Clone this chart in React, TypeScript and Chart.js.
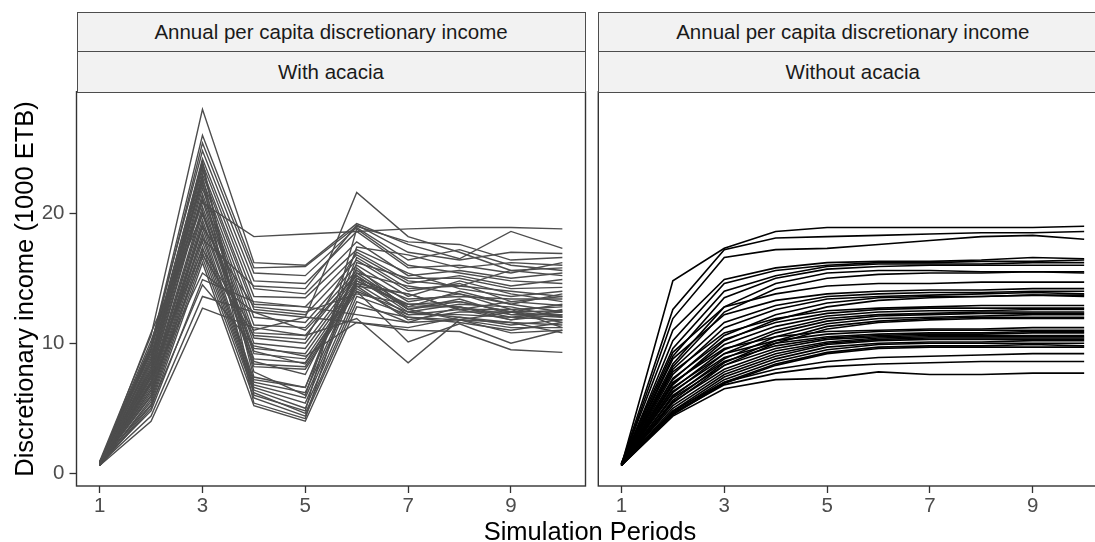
import { useEffect, useRef } from "react";
import { Chart, registerables } from "chart.js";

Chart.register(...registerables);

// Simulation periods on the x axis
const periods = [1, 2, 3, 4, 5, 6, 7, 8, 9, 10];
const xTicks = [1, 3, 5, 7, 9];
const yTicks = [0, 10, 20];

const stripTitle = "Annual per capita discretionary income";
const panelNames = ["With acacia", "Without acacia"];
const xTitle = "Simulation Periods";
const yTitle = "Discretionary income (1000 ETB)";

// Household trajectories with acacia (1000 ETB per period)
const withAcacia: number[][] = [
  [0.8, 9.2, 20.8, 18.2, 18.4, 18.6, 18.8, 18.9, 18.9, 18.8],
  [0.7, 7.8, 17.2, 11.0, 12.0, 21.6, 18.2, 17.0, 15.6, 15.2],
  [0.9, 10.6, 28.0, 16.2, 16.0, 19.2, 17.6, 16.5, 18.6, 17.3],
  [0.6, 9.8, 26.0, 15.8, 15.9, 19.0, 17.8, 17.6, 16.4, 16.6],
  [0.7, 9.5, 25.4, 15.4, 15.2, 18.9, 16.4, 17.2, 16.0, 15.6],
  [0.8, 9.9, 24.8, 14.8, 14.6, 18.6, 15.8, 16.0, 15.4, 16.2],
  [0.6, 9.0, 24.2, 14.2, 13.8, 17.8, 15.2, 15.6, 15.0, 15.4],
  [0.7, 8.8, 23.8, 13.6, 13.5, 17.2, 15.4, 14.2, 13.6, 14.0],
  [0.8, 8.6, 23.3, 13.0, 12.8, 16.8, 14.6, 15.2, 14.4, 14.9],
  [0.6, 8.4, 23.0, 12.6, 12.2, 16.4, 14.0, 14.6, 13.2, 13.6],
  [0.7, 8.2, 22.6, 12.0, 11.6, 16.0, 13.6, 14.8, 13.8, 13.2],
  [0.9, 8.0, 22.2, 11.4, 11.2, 15.6, 13.2, 13.8, 12.6, 12.8],
  [0.6, 7.8, 21.9, 10.8, 10.6, 15.4, 12.8, 14.0, 13.0, 12.4],
  [0.7, 7.6, 21.5, 10.4, 10.0, 15.2, 12.6, 13.4, 12.2, 12.2],
  [0.8, 7.5, 21.2, 10.0, 9.6, 15.0, 12.4, 13.0, 12.8, 12.0],
  [0.6, 7.3, 20.5, 9.6, 9.2, 14.8, 13.0, 12.8, 12.0, 11.8],
  [0.7, 7.1, 20.2, 9.2, 8.8, 14.6, 12.2, 12.6, 11.8, 12.6],
  [0.8, 7.0, 19.9, 8.8, 8.5, 14.4, 11.8, 12.4, 12.4, 11.6],
  [0.6, 6.8, 19.5, 8.4, 8.2, 14.2, 12.0, 11.8, 11.6, 11.4],
  [0.7, 6.6, 19.2, 8.2, 8.0, 14.0, 10.1, 11.5, 10.0, 11.0],
  [0.8, 6.4, 18.9, 7.2, 6.6, 15.8, 12.6, 13.2, 12.4, 13.0],
  [0.6, 6.2, 18.5, 7.0, 6.2, 15.0, 13.4, 13.6, 13.4, 13.4],
  [0.7, 6.0, 18.2, 6.8, 5.8, 14.8, 12.8, 12.8, 11.8, 12.2],
  [0.8, 5.9, 17.8, 6.6, 5.4, 14.6, 13.8, 12.6, 12.6, 11.2],
  [0.6, 5.7, 17.4, 6.4, 5.0, 14.0, 12.4, 12.0, 11.4, 11.8],
  [0.7, 5.5, 17.0, 6.2, 4.6, 13.6, 12.2, 12.2, 12.0, 12.4],
  [0.8, 5.3, 16.6, 5.8, 4.4, 13.2, 11.6, 11.8, 11.2, 11.2],
  [0.6, 5.0, 16.2, 5.2, 4.0, 12.8, 12.0, 11.6, 11.0, 11.6],
  [0.6, 4.0, 12.7, 11.2, 10.6, 11.9, 8.5, 11.8, 10.8, 11.0],
  [0.7, 4.4, 13.6, 12.4, 12.0, 11.6, 11.2, 12.0, 11.6, 10.8],
  [0.8, 4.8, 14.9, 13.2, 12.8, 12.2, 11.6, 12.8, 12.2, 12.0],
  [0.6, 5.2, 14.5, 9.8, 9.0, 11.6, 11.0, 10.9, 9.5, 9.3],
  [0.7, 8.0, 22.8, 7.4, 6.6, 16.6, 14.2, 14.4, 15.6, 15.8],
  [0.8, 8.6, 23.6, 7.8, 6.0, 17.4, 16.8, 15.8, 16.2, 16.0],
  [0.6, 9.4, 24.0, 6.0, 4.8, 18.8, 16.0, 15.4, 14.8, 14.6],
  [0.7, 9.6, 22.4, 5.4, 4.2, 16.2, 15.0, 15.0, 14.2, 14.3],
  [0.8, 10.2, 21.0, 8.6, 7.6, 15.4, 14.4, 13.8, 13.0, 13.8],
  [0.6, 10.8, 20.0, 9.4, 8.4, 14.4, 13.8, 12.6, 13.2, 12.9],
  [0.7, 6.9, 19.0, 12.8, 12.4, 13.8, 13.0, 13.2, 12.4, 12.5],
  [0.8, 7.4, 18.0, 14.4, 14.2, 19.1, 17.0, 16.4, 17.0, 16.9],
  [0.6, 6.4, 16.8, 10.6, 10.3, 17.0, 14.8, 14.4, 14.0, 13.6],
  [0.7, 7.0, 15.4, 12.4, 11.0, 15.2, 12.6, 11.8, 12.4, 12.1],
];

// Household trajectories without acacia (1000 ETB per period)
const withoutAcacia: number[][] = [
  [0.6, 14.8, 17.3, 18.6, 18.9, 18.9, 18.9, 18.9, 18.9, 19.0],
  [0.7, 12.6, 17.2, 18.1, 18.2, 18.3, 18.4, 18.5, 18.5, 18.6],
  [0.6, 11.9, 16.6, 17.2, 17.3, 17.6, 17.9, 18.2, 18.3, 18.0],
  [0.7, 11.0, 14.9, 15.8, 16.2, 16.3, 16.3, 16.4, 16.6, 16.5],
  [0.6, 10.2, 14.6, 15.6, 16.0, 16.2, 16.2, 16.3, 16.3, 16.4],
  [0.8, 9.6, 14.0, 15.2, 15.9, 16.1, 16.1, 16.1, 16.2, 16.2],
  [0.6, 9.0, 13.5, 15.0, 15.7, 15.9, 16.0, 16.0, 16.0, 16.0],
  [0.7, 8.4, 12.8, 14.6, 15.4, 15.6, 15.6, 15.5, 15.5, 15.5],
  [0.6, 8.2, 12.4, 14.2, 15.0, 15.3, 15.4, 15.4, 15.5, 15.4],
  [0.7, 9.3, 12.8, 13.8, 14.4, 14.6, 14.6, 14.7, 14.7, 14.7],
  [0.6, 8.8, 12.2, 13.3, 13.8, 14.0, 14.1, 14.1, 14.2, 14.2],
  [0.7, 8.0, 11.6, 12.9, 13.6, 13.8, 13.9, 13.9, 14.0, 14.0],
  [0.6, 7.6, 11.2, 12.6, 13.4, 13.6, 13.7, 13.8, 13.9, 13.8],
  [0.7, 7.2, 10.6, 12.2, 13.1, 13.5, 13.6, 13.6, 13.7, 13.6],
  [0.6, 6.8, 10.2, 11.8, 12.8, 13.3, 13.5, 13.6, 13.7, 13.7],
  [0.7, 7.8, 10.8, 11.9, 12.5, 12.7, 12.8, 12.9, 12.9, 12.9],
  [0.6, 7.3, 10.3, 11.6, 12.3, 12.6, 12.7, 12.7, 12.7, 12.7],
  [0.7, 6.9, 9.9, 11.3, 12.1, 12.4, 12.5, 12.5, 12.6, 12.6],
  [0.6, 6.5, 9.5, 11.0, 11.9, 12.2, 12.3, 12.4, 12.4, 12.4],
  [0.8, 6.2, 9.2, 10.8, 11.7, 12.1, 12.2, 12.3, 12.3, 12.3],
  [0.6, 5.9, 8.8, 10.5, 11.5, 11.9, 12.0, 12.1, 12.2, 12.2],
  [0.7, 5.6, 8.5, 10.2, 11.3, 11.7, 11.9, 12.0, 12.0, 12.0],
  [0.6, 5.4, 8.3, 10.0, 11.1, 11.6, 11.8, 11.9, 11.9, 11.9],
  [0.7, 7.0, 9.6, 10.5, 10.9, 11.0, 11.1, 11.1, 11.2, 11.2],
  [0.6, 6.6, 9.2, 10.2, 10.7, 10.9, 11.0, 11.0, 11.0, 11.0],
  [0.7, 6.3, 8.9, 10.0, 10.5, 10.7, 10.8, 10.8, 10.9, 10.9],
  [0.6, 6.0, 8.6, 9.8, 10.4, 10.6, 10.7, 10.7, 10.8, 10.8],
  [0.8, 5.8, 8.3, 9.6, 10.3, 10.5, 10.6, 10.6, 10.6, 10.6],
  [0.6, 5.5, 8.0, 9.4, 10.1, 10.4, 10.5, 10.5, 10.5, 10.5],
  [0.7, 5.2, 7.8, 9.2, 10.0, 10.3, 10.4, 10.4, 10.4, 10.4],
  [0.6, 5.0, 7.6, 9.0, 9.9, 10.2, 10.3, 10.3, 10.3, 10.3],
  [0.7, 4.8, 7.4, 8.8, 9.7, 10.0, 10.1, 10.1, 10.2, 10.2],
  [0.6, 4.7, 7.2, 8.6, 9.5, 9.9, 10.0, 10.0, 10.0, 10.0],
  [0.7, 4.6, 7.0, 8.4, 9.3, 9.7, 9.8, 9.8, 9.9, 9.8],
  [0.6, 4.5, 6.9, 8.3, 9.2, 9.6, 9.7, 9.7, 9.7, 9.7],
  [0.6, 4.8, 7.0, 8.0, 8.6, 8.9, 9.0, 9.1, 9.2, 9.2],
  [0.7, 4.6, 6.8, 7.7, 8.2, 8.4, 8.5, 8.6, 8.6, 8.6],
  [0.6, 4.4, 6.5, 7.2, 7.3, 7.8, 7.6, 7.6, 7.7, 7.7],
];

const FONT = "'Liberation Sans', Arial, Helvetica, sans-serif";
const X_MIN = 0.55;
const X_MAX = 10.45;
const Y_MIN = -0.98;
const Y_MAX = 29.35;
const Y_AXIS_WIDTH = 76.5;

const panelBorder = {
  id: "panelBorder",
  afterDraw(chart: any) {
    const { ctx, chartArea: a } = chart;
    ctx.save();
    ctx.strokeStyle = "#333333";
    ctx.lineWidth = 1.4;
    ctx.strokeRect(a.left, a.top, a.right - a.left, a.bottom - a.top);
    ctx.restore();
  },
};

function buildConfig(series: number[][], color: string, lineWidth: number, showY: boolean, padding: any): any {
  const tickFont = { size: 20.5, family: FONT };
  return {
    type: "line",
    data: {
      datasets: series.map((vals, i) => ({
        label: `household ${i + 1}`,
        data: periods.map((p, j) => ({ x: p, y: vals[j] })),
        borderColor: color,
        borderWidth: lineWidth,
        pointRadius: 0,
        fill: false,
        tension: 0,
      })),
    },
    options: {
      responsive: false,
      animation: false,
      events: [],
      layout: { padding },
      plugins: { legend: { display: false }, tooltip: { enabled: false } },
      scales: {
        x: {
          type: "linear",
          min: X_MIN,
          max: X_MAX,
          afterBuildTicks: (s: any) => {
            s.ticks = xTicks.map((v) => ({ value: v }));
          },
          afterFit: (s: any) => {
            s.height = 56;
          },
          grid: { drawOnChartArea: false, tickLength: 7, tickColor: "#333333", tickWidth: 1.3 },
          border: { display: false },
          ticks: { color: "#4D4D4D", font: tickFont, padding: 1, maxRotation: 0, autoSkip: false },
        },
        y: {
          type: "linear",
          display: showY,
          min: Y_MIN,
          max: Y_MAX,
          afterBuildTicks: (s: any) => {
            s.ticks = yTicks.map((v) => ({ value: v }));
          },
          afterFit: (s: any) => {
            s.width = showY ? Y_AXIS_WIDTH : 0;
          },
          grid: { drawOnChartArea: false, tickLength: 7, tickColor: "#333333", tickWidth: 1.3 },
          border: { display: false },
          ticks: { color: "#4D4D4D", font: tickFont, padding: 5 },
        },
      },
    },
    plugins: [panelBorder],
  };
}

function Strip({ left, width, top, height, text }: { left: number; width: number; top: number; height: number; text: string }) {
  return (
    <div
      style={{
        position: "absolute",
        left,
        top,
        width,
        height,
        boxSizing: "border-box",
        border: "1.5px solid #4D4D4D",
        background: "#F2F2F2",
        color: "#1A1A1A",
        fontSize: 20.5,
        display: "flex",
        alignItems: "center",
        justifyContent: "center",
        whiteSpace: "nowrap",
      }}
    >
      {text}
    </div>
  );
}

export default function App() {
  const leftRef = useRef<HTMLCanvasElement>(null);
  const rightRef = useRef<HTMLCanvasElement>(null);

  useEffect(() => {
    const left = new Chart(
      leftRef.current as HTMLCanvasElement,
      buildConfig(withAcacia, "#4D4D4D", 1.4, true, { top: 91.7, right: 6.5, bottom: 0, left: 0 })
    );
    const right = new Chart(
      rightRef.current as HTMLCanvasElement,
      buildConfig(withoutAcacia, "#000000", 1.6, false, { top: 91.7, right: 4.7, bottom: 0, left: 6.3 })
    );
    return () => {
      left.destroy();
      right.destroy();
    };
  }, []);

  const leftX = 76.5;
  const rightX = 598.3;
  const panelW = 509;

  return (
    <div
      style={{
        position: "fixed",
        left: 0,
        top: 0,
        width: 1095,
        height: 542,
        overflow: "hidden",
        background: "#FFFFFF",
        fontFamily: FONT,
      }}
    >
      <canvas ref={leftRef} width={592} height={542} style={{ position: "absolute", left: 0, top: 0 }} />
      <canvas ref={rightRef} width={520} height={542} style={{ position: "absolute", left: 592, top: 0 }} />

      <Strip left={leftX} width={panelW} top={12} height={40.5} text={stripTitle} />
      <Strip left={leftX} width={panelW} top={51} height={41.5} text={panelNames[0]} />
      <Strip left={rightX} width={panelW} top={12} height={40.5} text={stripTitle} />
      <Strip left={rightX} width={panelW} top={51} height={41.5} text={panelNames[1]} />

      <div
        style={{
          position: "absolute",
          left: 390,
          top: 516,
          width: 400,
          height: 30,
          lineHeight: "30px",
          fontSize: 25.5,
          textAlign: "center",
          color: "#000",
          whiteSpace: "nowrap",
        }}
      >
        {xTitle}
      </div>
      <div
        style={{
          position: "absolute",
          left: 23.65 - 250,
          top: 289 - 15,
          width: 500,
          height: 30,
          lineHeight: "30px",
          fontSize: 25.5,
          textAlign: "center",
          color: "#000",
          whiteSpace: "nowrap",
          transform: "rotate(-90deg)",
        }}
      >
        {yTitle}
      </div>
    </div>
  );
}
